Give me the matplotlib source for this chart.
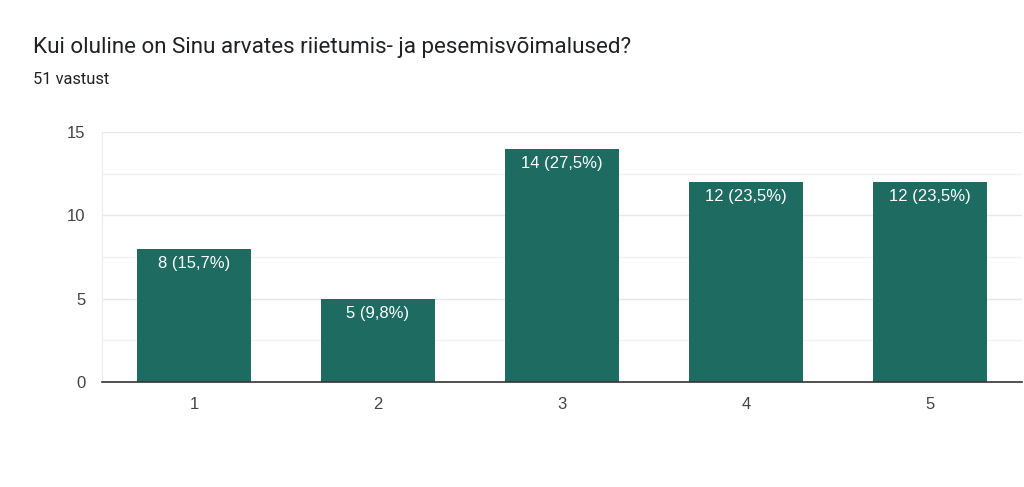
import matplotlib
matplotlib.use("Agg")
import matplotlib.pyplot as plt

categories = ["1", "2", "3", "4", "5"]
counts = [8, 5, 14, 12, 12]
labels = ["8 (15,7%)", "5 (9,8%)", "14 (27,5%)", "12 (23,5%)", "12 (23,5%)"]
yticks = [0, 5, 10, 15]
title = "Kui oluline on Sinu arvates riietumis- ja pesemisvõimalused?"
subtitle = "51 vastust"

plt.rcParams['font.family'] = ['Liberation Sans', 'DejaVu Sans']

fig = plt.figure(figsize=(10.24, 4.87), dpi=100)
ax = fig.add_axes([102/1024, 105/487, 920/1024, 250/487])

x = list(range(len(categories)))
bars = ax.bar(x, counts, width=0.62, color="#1d6b61", zorder=3)

for xi, c, lab in zip(x, counts, labels):
    ax.text(xi, c - 0.42, lab, ha="center", va="top", color="white", fontsize=12, zorder=4)

ax.set_xlim(-0.5, len(categories) - 0.5)
ax.set_ylim(0, 15)
ax.set_yticks(yticks)
ax.set_yticks([2.5, 7.5, 12.5], minor=True)
ax.set_xticks(x)
ax.set_xticklabels(categories)
ax.grid(axis="y", which="major", color="#e8e8e8", linewidth=1, zorder=0)
ax.grid(axis="y", which="minor", color="#f2f2f2", linewidth=1, zorder=0)
ax.tick_params(axis="both", which="both", length=0, labelsize=12, labelcolor="#444444")
ax.tick_params(axis="y", pad=12)
ax.tick_params(axis="x", pad=11)
for s in ["top", "right"]:
    ax.spines[s].set_visible(False)
ax.spines["left"].set_color("#ececec")
ax.spines["bottom"].set_color("#333333")
ax.spines["bottom"].set_linewidth(1.2)
ax.spines["bottom"].set_zorder(5)

fig.text(33/1024, 1 - 47/487, title, fontsize=16.1, color="#202124", va="center", ha="left",
         family=['Roboto', 'DejaVu Sans'])
fig.text(33/1024, 1 - 80/487, subtitle, fontsize=11.8, color="#202124", va="center", ha="left",
         family=['Roboto', 'DejaVu Sans'])

fig.savefig("out.png", dpi=100, facecolor="white")
